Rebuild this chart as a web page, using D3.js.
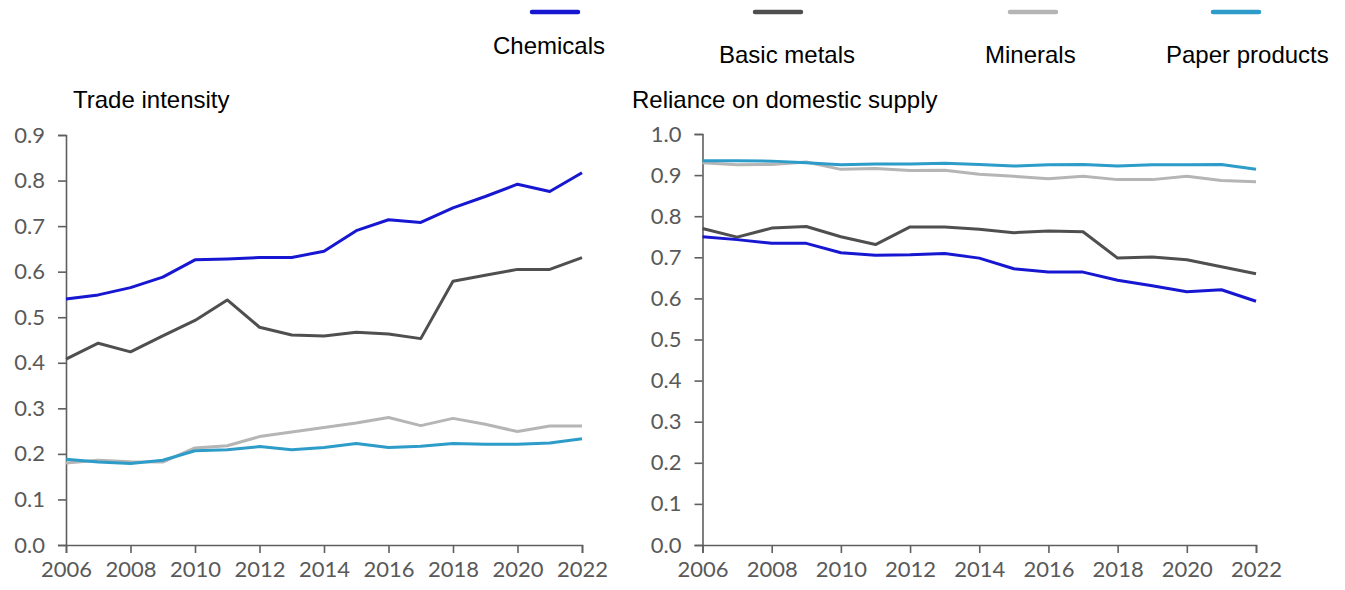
<!DOCTYPE html>
<html>
<head>
<meta charset="utf-8">
<script src="https://cdn.jsdelivr.net/npm/d3@7"></script>
<style>
  html, body { margin: 0; padding: 0; background: #fff; }
  svg { display: block; }
  .tick text { font-family: Lato, "Open Sans", sans-serif; font-size: 22px; fill: #595959; }
  .title, .legend-label { font-family: "Liberation Sans", Arial, sans-serif; font-size: 24px; fill: #000; }
</style>
</head>
<body>
<svg id="chart" width="1345" height="590"></svg>
<script>
// ---------- data ----------
const years = [2006, 2007, 2008, 2009, 2010, 2011, 2012, 2013, 2014, 2015, 2016, 2017, 2018, 2019, 2020, 2021, 2022];
const seriesNames = ["Chemicals", "Basic metals", "Minerals", "Paper products"];
const seriesColors = ["#1717d2", "#4f4f4f", "#b5b5b5", "#2d9cc9"];

// Trade intensity
const tradeChemicals = [0.540, 0.549, 0.565, 0.588, 0.626, 0.628, 0.631, 0.631, 0.645, 0.690, 0.714, 0.708, 0.740, 0.765, 0.792, 0.776, 0.817];
const tradeBasicMetals = [0.408, 0.443, 0.424, 0.459, 0.493, 0.538, 0.478, 0.461, 0.459, 0.467, 0.463, 0.453, 0.579, 0.592, 0.605, 0.605, 0.631];
const tradeMinerals = [0.180, 0.186, 0.183, 0.182, 0.213, 0.218, 0.238, 0.248, 0.258, 0.268, 0.280, 0.262, 0.278, 0.265, 0.249, 0.261, 0.261];
const tradePaper = [0.188, 0.182, 0.179, 0.186, 0.207, 0.209, 0.216, 0.209, 0.214, 0.223, 0.214, 0.217, 0.223, 0.221, 0.221, 0.224, 0.233];

// Reliance on domestic supply
const relChemicals = [0.750, 0.743, 0.734, 0.734, 0.711, 0.705, 0.706, 0.709, 0.698, 0.672, 0.664, 0.664, 0.644, 0.631, 0.616, 0.621, 0.593];
const relBasicMetals = [0.770, 0.749, 0.771, 0.775, 0.750, 0.731, 0.774, 0.774, 0.768, 0.760, 0.764, 0.762, 0.698, 0.701, 0.694, 0.677, 0.660];
const relMinerals = [0.930, 0.925, 0.926, 0.932, 0.914, 0.916, 0.911, 0.912, 0.902, 0.897, 0.891, 0.897, 0.889, 0.889, 0.897, 0.887, 0.884];
const relPaper = [0.935, 0.935, 0.934, 0.930, 0.925, 0.927, 0.927, 0.929, 0.926, 0.922, 0.925, 0.926, 0.922, 0.925, 0.925, 0.926, 0.914];

const xTickYears = [2006, 2008, 2010, 2012, 2014, 2016, 2018, 2020, 2022];
const tradeTicks = [0, 0.1, 0.2, 0.3, 0.4, 0.5, 0.6, 0.7, 0.8, 0.9];
const relTicks = [0, 0.1, 0.2, 0.3, 0.4, 0.5, 0.6, 0.7, 0.8, 0.9, 1.0];

const panels = [
  { title: "Trade intensity", series: [tradeChemicals, tradeBasicMetals, tradeMinerals, tradePaper],
    yMax: 0.9, yTicks: tradeTicks, x0: 66, x1: 582, yTop: 135, yBot: 545, titleX: 73 },
  { title: "Reliance on domestic supply", series: [relChemicals, relBasicMetals, relMinerals, relPaper],
    yMax: 1.0, yTicks: relTicks, x0: 702.5, x1: 1256, yTop: 134, yBot: 545, titleX: 632 }
];

const svg = d3.select("#chart");
const axisColor = "#5f5f5f";

panels.forEach(p => {
  const x = d3.scaleLinear().domain([years[0], years[years.length - 1]]).range([p.x0, p.x1]);
  const y = d3.scaleLinear().domain([0, p.yMax]).range([p.yBot, p.yTop]);

  svg.append("text").attr("class", "title").attr("x", p.titleX).attr("y", 108).text(p.title);

  const yAxis = d3.axisLeft(y).tickValues(p.yTicks).tickFormat(d3.format(".1f")).tickSize(8).tickPadding(13);
  const gy = svg.append("g").attr("transform", `translate(${p.x0},0)`).call(yAxis);
  gy.select(".domain").attr("stroke", axisColor).attr("stroke-width", 1.6);
  gy.selectAll(".tick line").attr("stroke", axisColor).attr("stroke-width", 1.6);

  const xAxis = d3.axisBottom(x).tickValues(xTickYears).tickFormat(d3.format("d")).tickSize(8).tickPadding(9);
  const gx = svg.append("g").attr("transform", `translate(0,${p.yBot})`).call(xAxis);
  gx.select(".domain").attr("stroke", axisColor).attr("stroke-width", 1.6);
  gx.selectAll(".tick line").attr("stroke", axisColor).attr("stroke-width", 1.6);
  gx.selectAll(".tick text").attr("dy", "0.68em");

  const line = d3.line().x((d, i) => x(years[i])).y(d => y(d));
  const order = [2, 3, 1, 0];
  order.forEach(k => {
    svg.append("path")
      .datum(p.series[k])
      .attr("fill", "none")
      .attr("stroke", seriesColors[k])
      .attr("stroke-width", 3)
      .attr("stroke-linejoin", "round")
      .attr("d", line);
  });
});

// ---------- legend ----------
const legendSwatchX = [532, 755, 1010, 1213];
const legendLabelX = [493, 719, 985, 1166];
const legendLabelY = [54, 63, 63, 63];
seriesNames.forEach((name, i) => {
  svg.append("line")
    .attr("x1", legendSwatchX[i]).attr("x2", legendSwatchX[i] + 46)
    .attr("y1", 12).attr("y2", 12)
    .attr("stroke", seriesColors[i]).attr("stroke-width", 4.5).attr("stroke-linecap", "round");
  svg.append("text").attr("class", "legend-label")
    .attr("x", legendLabelX[i]).attr("y", legendLabelY[i]).text(name);
});
</script>
</body>
</html>
